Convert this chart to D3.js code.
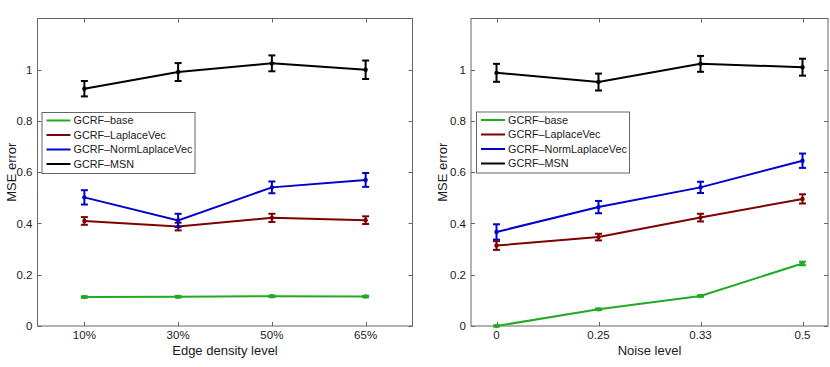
<!DOCTYPE html>
<html><head><meta charset="utf-8">
<script src="https://cdn.jsdelivr.net/npm/d3@7"></script>
<style>body{margin:0;background:#fff}text{font-family:"Liberation Sans",Arial,sans-serif;fill:#1a1a1a}</style>
</head><body><svg id="c" width="830" height="367"></svg>
<script>
const seriesNames = ["GCRF\u2013base","GCRF\u2013LaplaceVec","GCRF\u2013NormLaplaceVec","GCRF\u2013MSN"];
const seriesColors = ["#22aa22","#7f0000","#0000cc","#000000"];
const yTicks = [0,0.2,0.4,0.6,0.8,1];
const yTickLabels = ["0","0.2","0.4","0.6","0.8","1"];

// Left panel: edge density
const leftCategories = ["10%","30%","50%","65%"];
const leftBase = [0.113,0.114,0.116,0.115];
const leftBaseErr = [0.003,0.003,0.003,0.003];
const leftLap = [0.410,0.388,0.422,0.413];
const leftLapErr = [0.015,0.015,0.016,0.015];
const leftNorm = [0.502,0.412,0.541,0.570];
const leftNormErr = [0.028,0.026,0.023,0.027];
const leftMsn = [0.926,0.991,1.025,1.000];
const leftMsnErr = [0.030,0.035,0.031,0.036];

// Right panel: noise level
const rightCategories = ["0","0.25","0.33","0.5"];
const rightBase = [0.000,0.065,0.117,0.244];
const rightBaseErr = [0.002,0.003,0.003,0.007];
const rightLap = [0.314,0.347,0.423,0.496];
const rightLapErr = [0.017,0.013,0.015,0.018];
const rightNorm = [0.367,0.464,0.541,0.645];
const rightNormErr = [0.030,0.024,0.022,0.028];
const rightMsn = [0.988,0.952,1.023,1.010];
const rightMsnErr = [0.035,0.033,0.031,0.033];

const svg = d3.select("#c");

function panel(cfg){
  const g = svg.append("g");
  const x = d3.scaleLinear().domain(cfg.xdom).range([cfg.x0,cfg.x1]);
  const y = d3.scaleLinear().domain([0,1.2]).range([cfg.y1,cfg.y0]);
  const frame = "#666";
  g.append("rect").attr("x",cfg.x0).attr("y",cfg.y0).attr("width",cfg.x1-cfg.x0).attr("height",cfg.y1-cfg.y0)
    .attr("fill","none").attr("stroke",frame).attr("stroke-width",1);
  const tl = 4;
  yTicks.forEach((t,i)=>{
    const yy = Math.round(y(t))+0.5;
    g.append("line").attr("x1",cfg.x0).attr("x2",cfg.x0+tl).attr("y1",yy).attr("y2",yy).attr("stroke",frame);
    g.append("line").attr("x1",cfg.x1-tl).attr("x2",cfg.x1).attr("y1",yy).attr("y2",yy).attr("stroke",frame);
    g.append("text").attr("x",cfg.x0-5).attr("y",y(t)).attr("dy","0.35em").attr("text-anchor","end")
      .attr("font-size",11.5).text(yTickLabels[i]);
  });
  cfg.cats.forEach((c,i)=>{
    const xx = Math.round(x(i+1))+0.5;
    g.append("line").attr("x1",xx).attr("x2",xx).attr("y1",cfg.y1).attr("y2",cfg.y1-tl).attr("stroke",frame);
    g.append("line").attr("x1",xx).attr("x2",xx).attr("y1",cfg.y0).attr("y2",cfg.y0+tl).attr("stroke",frame);
    g.append("text").attr("x",x(i+1)).attr("y",cfg.y1+13).attr("text-anchor","middle")
      .attr("font-size",11.5).text(c);
  });
  g.append("text").attr("x",(cfg.x0+cfg.x1)/2).attr("y",cfg.y1+29).attr("text-anchor","middle")
    .attr("font-size",13).text(cfg.xlabel);
  g.append("text").attr("transform",`translate(${cfg.ylx},${(cfg.y0+cfg.y1)/2}) rotate(-90)`)
    .attr("text-anchor","middle").attr("font-size",13).text("MSE error");

  const line = d3.line().x((d,i)=>x(i+1)).y(d=>y(d));
  cfg.series.forEach((s,k)=>{
    const col = seriesColors[k];
    g.append("path").datum(s.v).attr("d",line).attr("fill","none").attr("stroke",col).attr("stroke-width",2);
    s.v.forEach((v,i)=>{
      const xx = x(i+1), e = s.e[i];
      const cw = 3.5;
      g.append("line").attr("x1",xx).attr("x2",xx).attr("y1",y(v-e)).attr("y2",y(v+e)).attr("stroke",col).attr("stroke-width",2);
      g.append("line").attr("x1",xx-cw).attr("x2",xx+cw).attr("y1",y(v-e)).attr("y2",y(v-e)).attr("stroke",col).attr("stroke-width",2);
      g.append("line").attr("x1",xx-cw).attr("x2",xx+cw).attr("y1",y(v+e)).attr("y2",y(v+e)).attr("stroke",col).attr("stroke-width",2);
      g.append("circle").attr("cx",xx).attr("cy",y(v)).attr("r",2.2).attr("fill",col);
    });
  });
  const lx = cfg.legX, ly = cfg.legY;
  g.append("rect").attr("x",lx+0.5).attr("y",ly+0.5).attr("width",153).attr("height",61)
    .attr("fill","#fff").attr("stroke",frame).attr("stroke-width",1);
  seriesNames.forEach((n,k)=>{
    const yy = ly+8.5+k*14.5;
    g.append("line").attr("x1",lx+5).attr("x2",lx+29).attr("y1",yy).attr("y2",yy).attr("stroke",seriesColors[k]).attr("stroke-width",2);
    g.append("text").attr("x",lx+32).attr("y",yy).attr("dy","0.35em").attr("font-size",10.8).text(n);
  });
}

panel({x0:37.5,x1:412.5,y0:18.5,y1:326,xdom:[0.5,4.5],cats:leftCategories,xlabel:"Edge density level",ylx:16,
  legX:41.5,legY:112,
  series:[{v:leftBase,e:leftBaseErr},{v:leftLap,e:leftLapErr},{v:leftNorm,e:leftNormErr},{v:leftMsn,e:leftMsnErr}]});
panel({x0:471,x1:828,y0:18.5,y1:326,xdom:[0.75,4.25],cats:rightCategories,xlabel:"Noise level",ylx:447,
  legX:476,legY:111.5,
  series:[{v:rightBase,e:rightBaseErr},{v:rightLap,e:rightLapErr},{v:rightNorm,e:rightNormErr},{v:rightMsn,e:rightMsnErr}]});
</script></body></html>
